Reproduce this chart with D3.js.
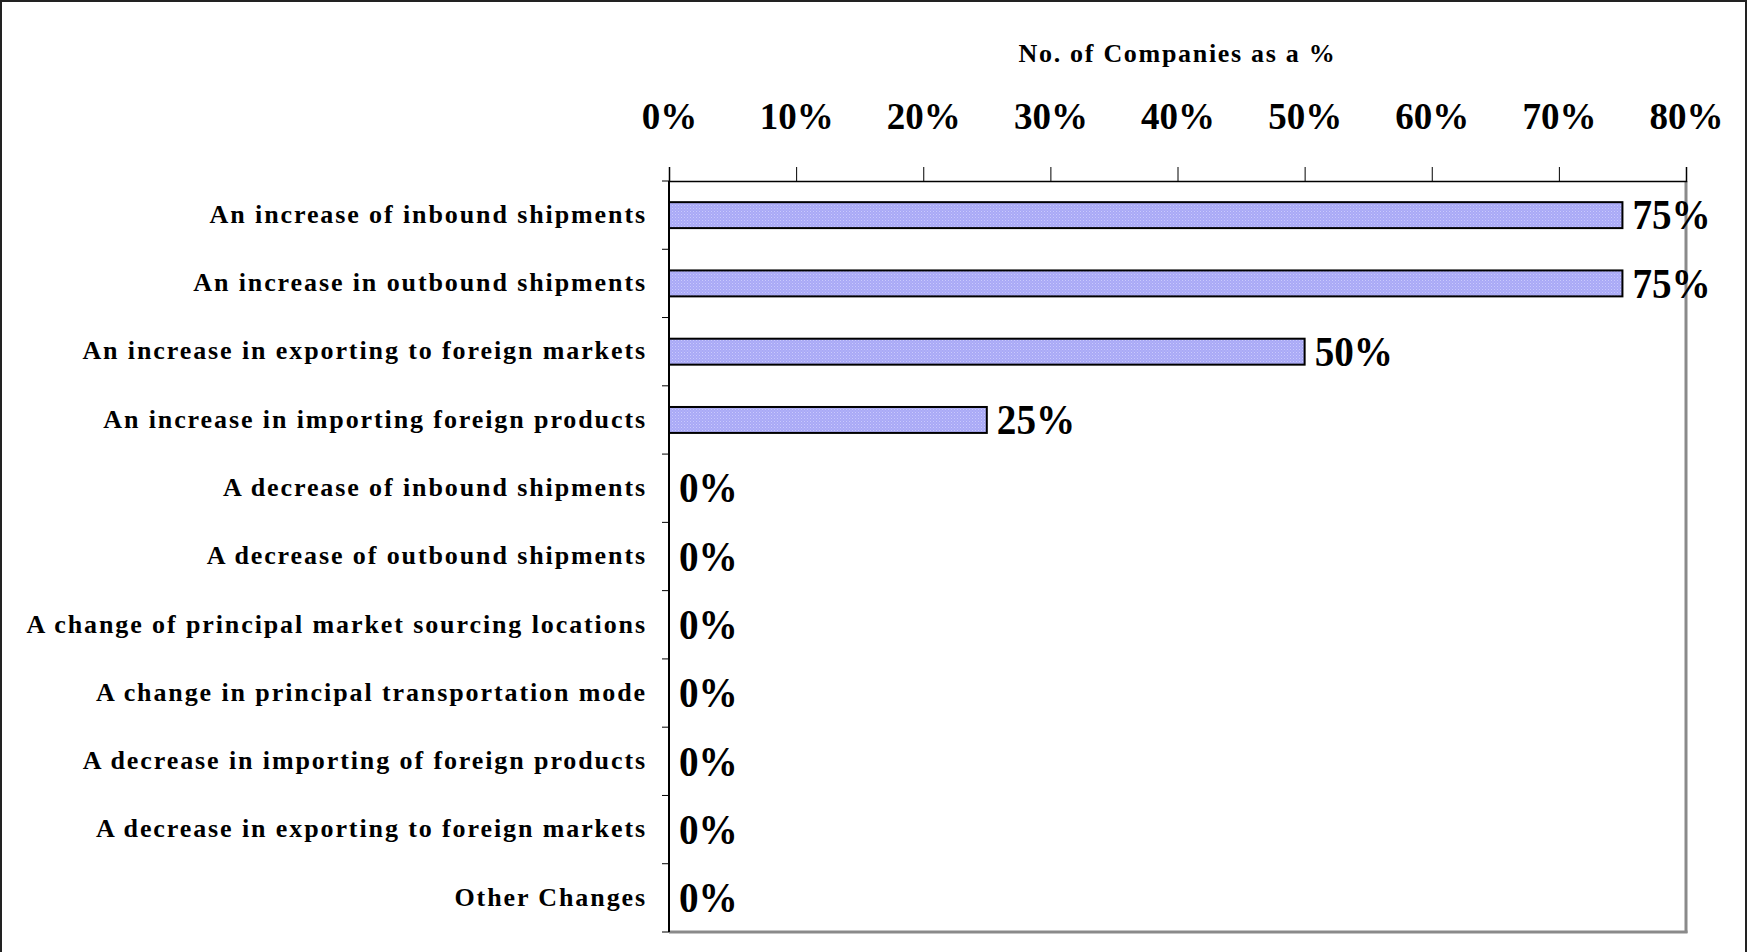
<!DOCTYPE html>
<html>
<head>
<meta charset="utf-8">
<script src="https://cdnjs.cloudflare.com/ajax/libs/d3/7.8.5/d3.min.js"></script>
<style>
  body { margin: 0; background: #fff; }
  text { font-family: 'Liberation Serif', 'Times New Roman', serif; font-weight: bold; fill: #000; }
</style>
</head>
<body>
<div id="main"></div>
<script>
/*********************************************************
 * Data
 *********************************************************/

const categories = [
  'An increase of inbound shipments',
  'An increase in outbound shipments',
  'An increase in exporting to foreign markets',
  'An increase in importing foreign products',
  'A decrease of inbound shipments',
  'A decrease of outbound shipments',
  'A change of principal market sourcing locations',
  'A change in principal transportation mode',
  'A decrease in importing of foreign products',
  'A decrease in exporting to foreign markets',
  'Other Changes'
];
const values = [0.75, 0.75, 0.5, 0.25, 0, 0, 0, 0, 0, 0, 0];
const tickValues = [0, 0.1, 0.2, 0.3, 0.4, 0.5, 0.6, 0.7, 0.8];
const axisTitle = 'No. of Companies as a %';

/*********************************************************
 * Layout
 *********************************************************/

const svgWidth = 1748;
const svgHeight = 952;
const margin = { t: 181, r: 62, b: 20, l: 669 };
const chartWidth = svgWidth - margin.l - margin.r;
const chartHeight = svgHeight - margin.t - margin.b;

const svg = d3
  .select('#main')
  .append('svg')
  .attr('width', svgWidth)
  .attr('height', svgHeight);

// outer frame (top, left, right only)
svg.append('path')
  .attr('d', `M1,${svgHeight} V1 H${svgWidth - 2} V${svgHeight}`)
  .attr('fill', 'none')
  .attr('stroke', '#222')
  .attr('stroke-width', 2);

// dotted lavender fill like the original
const defs = svg.append('defs');
const pat = defs.append('pattern')
  .attr('id', 'dots')
  .attr('width', 3)
  .attr('height', 3)
  .attr('patternUnits', 'userSpaceOnUse');
pat.append('rect').attr('width', 3).attr('height', 3).attr('fill', '#a9a9f6');
pat.append('rect').attr('width', 1).attr('height', 1).attr('fill', '#c9c9fd');
pat.append('rect').attr('x', 1.5).attr('y', 1.5).attr('width', 1).attr('height', 1).attr('fill', '#bdbdfb');

const chart = svg.append('g')
  .attr('transform', `translate(${margin.l},${margin.t})`);

/*********************************************************
 * Scales and axes
 *********************************************************/

const x = d3.scaleLinear().domain([0, 0.8]).range([0, chartWidth]);
const y = d3.scaleBand().domain(categories).range([0, chartHeight]).paddingInner(0.62).paddingOuter(0.31);
const yBand = d3.scaleBand().domain(categories).range([0, chartHeight]);

// plot area edges: shadowed right/bottom
chart.append('line')
  .attr('x1', chartWidth).attr('x2', chartWidth)
  .attr('y1', 0).attr('y2', chartHeight + 1)
  .attr('stroke', '#8a8a8a').attr('stroke-width', 3);
chart.append('line')
  .attr('x1', 0).attr('x2', chartWidth + 1.5)
  .attr('y1', chartHeight).attr('y2', chartHeight)
  .attr('stroke', '#8a8a8a').attr('stroke-width', 3);

// top axis with ticks pointing up
const xAxis = d3.axisTop(x)
  .tickValues(tickValues)
  .tickSize(14)
  .tickPadding(38)
  .tickFormat(d3.format('.0%'));

const gx = chart.append('g').call(xAxis);
gx.select('.domain').attr('stroke', '#000').attr('stroke-width', 1.5);
gx.selectAll('.tick line').attr('stroke', '#000').attr('stroke-width', 1);
gx.selectAll('.tick text')
  .attr('font-size', 37)
  .attr('font-family', null)
  .attr('dy', 0);

// left axis: ticks at band boundaries
const boundaries = categories.map(c => yBand(c)).concat([chartHeight]);
chart.append('line')
  .attr('x1', 0).attr('x2', 0)
  .attr('y1', 0).attr('y2', chartHeight)
  .attr('stroke', '#000').attr('stroke-width', 2);
chart.selectAll('.ytick')
  .data(boundaries)
  .enter()
  .append('line')
  .attr('class', 'ytick')
  .attr('x1', -7).attr('x2', 0)
  .attr('y1', d => d).attr('y2', d => d)
  .attr('stroke', '#000').attr('stroke-width', 1);

chart.selectAll('.catLabel')
  .data(categories)
  .enter()
  .append('text')
  .attr('class', 'catLabel')
  .attr('x', -22)
  .attr('y', d => yBand(d) + yBand.bandwidth() / 2)
  .attr('dy', '0.3em')
  .attr('text-anchor', 'end')
  .attr('font-size', 26)
  .attr('letter-spacing', 1.9)
  .text(d => d);

// axis title
svg.append('text')
  .attr('x', margin.l + chartWidth / 2)
  .attr('y', 62)
  .attr('text-anchor', 'middle')
  .attr('font-size', 26)
  .attr('letter-spacing', 1.7)
  .text(axisTitle);

/*********************************************************
 * Bars and value labels
 *********************************************************/

const data = categories.map((c, i) => ({ name: c, value: values[i] }));

chart.selectAll('.bar')
  .data(data.filter(d => d.value > 0))
  .enter()
  .append('rect')
  .attr('class', 'bar')
  .attr('x', 0)
  .attr('y', d => y(d.name))
  .attr('width', d => x(d.value))
  .attr('height', y.bandwidth())
  .attr('fill', 'url(#dots)')
  .attr('stroke', '#000')
  .attr('stroke-width', 2);

// labels slightly taller than wide, as in the original
chart.selectAll('.valLabel')
  .data(data)
  .enter()
  .append('text')
  .attr('class', 'valLabel')
  .attr('transform', d => `translate(${x(d.value) + 10},${yBand(d.name) + yBand.bandwidth() / 2}) scale(0.98,1.08)`)
  .attr('dy', '0.33em')
  .attr('font-size', 40)
  .text(d => d3.format('.0%')(d.value));
</script>
</body>
</html>
